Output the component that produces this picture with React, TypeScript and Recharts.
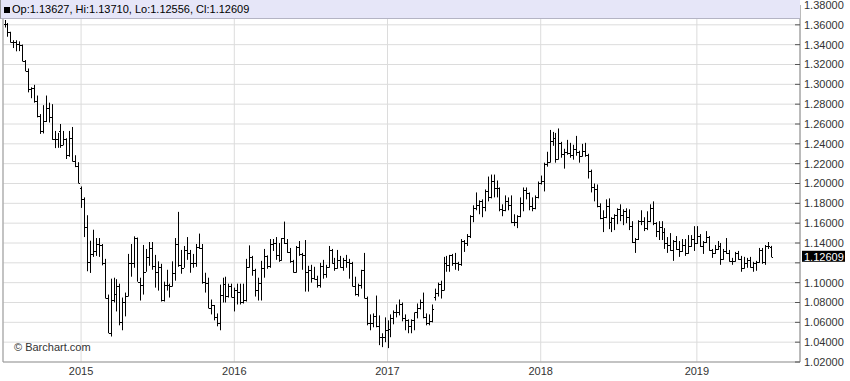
import { ComposedChart, Bar, XAxis, YAxis, CartesianGrid, ReferenceLine } from 'recharts'

// weekly EUR/USD bars: [open, high, low, close]
type Ohlc = [number, number, number, number]

const bars2014: Ohlc[] = [
  [1.3605, 1.3649, 1.3573, 1.3605], [1.3605, 1.3618, 1.3480, 1.3525], [1.3525, 1.3530, 1.3420, 1.3430],
  [1.3430, 1.3445, 1.3366, 1.3425], [1.3425, 1.3444, 1.3333, 1.3410], [1.3410, 1.3433, 1.3335, 1.3400],
  [1.3400, 1.3401, 1.3230, 1.3240], [1.3240, 1.3245, 1.3131, 1.3132], [1.3132, 1.3160, 1.2919, 1.2953],
  [1.2953, 1.2970, 1.2860, 1.2962], [1.2962, 1.2995, 1.2815, 1.2830], [1.2830, 1.2887, 1.2667, 1.2685],
  [1.2685, 1.2700, 1.2500, 1.2525], [1.2525, 1.2790, 1.2505, 1.2630], [1.2630, 1.2887, 1.2620, 1.2760],
  [1.2760, 1.2815, 1.2615, 1.2670], [1.2670, 1.2800, 1.2440, 1.2450], [1.2450, 1.2530, 1.2357, 1.2450],
  [1.2450, 1.2510, 1.2360, 1.2525], [1.2525, 1.2600, 1.2360, 1.2390], [1.2390, 1.2530, 1.2385, 1.2450],
  [1.2450, 1.2456, 1.2247, 1.2290], [1.2290, 1.2530, 1.2270, 1.2460], [1.2460, 1.2570, 1.2220, 1.2230],
  [1.2230, 1.2285, 1.2165, 1.2180], [1.2180, 1.2215, 1.2000, 1.2010],
]

const bars2015: Ohlc[] = [
  [1.1950, 1.1970, 1.1754, 1.1840], [1.1840, 1.1860, 1.1460, 1.1565], [1.1565, 1.1680, 1.1115, 1.1205],
  [1.1205, 1.1423, 1.1098, 1.1290], [1.1290, 1.1534, 1.1260, 1.1315], [1.1315, 1.1450, 1.1270, 1.1390],
  [1.1390, 1.1450, 1.1260, 1.1380], [1.1380, 1.1390, 1.1175, 1.1195], [1.1195, 1.1240, 1.0840, 1.0845],
  [1.0845, 1.0880, 1.0490, 1.0495], [1.0495, 1.1040, 1.0457, 1.0825], [1.0825, 1.1050, 1.0800, 1.0890],
  [1.0890, 1.1035, 1.0710, 1.0970], [1.0970, 1.0990, 1.0570, 1.0600], [1.0600, 1.0850, 1.0520, 1.0810],
  [1.0810, 1.0900, 1.0660, 1.0870], [1.0870, 1.1290, 1.0860, 1.1200], [1.1200, 1.1390, 1.1060, 1.1200],
  [1.1200, 1.1467, 1.1150, 1.1450], [1.1450, 1.1455, 1.1010, 1.1010], [1.1010, 1.1050, 1.0820, 1.0980],
  [1.0980, 1.1380, 1.0880, 1.1110], [1.1110, 1.1340, 1.1110, 1.1260], [1.1260, 1.1410, 1.1170, 1.1350],
  [1.1350, 1.1410, 1.1130, 1.1165], [1.1165, 1.1280, 1.0950, 1.1110], [1.1110, 1.1215, 1.0920, 1.1160],
  [1.1160, 1.1190, 1.0810, 1.0830], [1.0830, 1.1010, 1.0810, 1.0980], [1.0980, 1.1130, 1.0920, 1.0980],
  [1.0980, 1.0990, 1.0850, 1.0970], [1.0970, 1.1215, 1.0960, 1.1100], [1.1100, 1.1450, 1.1020, 1.1390],
  [1.1390, 1.1714, 1.1160, 1.1180], [1.1180, 1.1330, 1.1090, 1.1150], [1.1150, 1.1370, 1.1150, 1.1330],
  [1.1330, 1.1460, 1.1230, 1.1300], [1.1300, 1.1330, 1.1100, 1.1200], [1.1200, 1.1290, 1.1150, 1.1200],
  [1.1200, 1.1390, 1.1160, 1.1360], [1.1360, 1.1495, 1.1340, 1.1350], [1.1350, 1.1390, 1.0990, 1.1010],
  [1.1010, 1.1100, 1.0900, 1.1000], [1.1000, 1.1050, 1.0740, 1.0745], [1.0745, 1.0830, 1.0680, 1.0770],
  [1.0770, 1.0775, 1.0620, 1.0650], [1.0650, 1.0690, 1.0560, 1.0590], [1.0590, 1.0980, 1.0520, 1.0880],
  [1.0880, 1.1050, 1.0800, 1.0990], [1.0990, 1.1060, 1.0800, 1.0870], [1.0870, 1.0990, 1.0850, 1.0970],
  [1.0970, 1.0990, 1.0850, 1.0860],
]

const bars2016: Ohlc[] = [
  [1.0860, 1.0950, 1.0710, 1.0930], [1.0930, 1.0990, 1.0780, 1.0910], [1.0910, 1.0990, 1.0780, 1.0800],
  [1.0800, 1.0990, 1.0790, 1.0830], [1.0830, 1.1240, 1.0810, 1.1160], [1.1160, 1.1376, 1.1150, 1.1260],
  [1.1260, 1.1270, 1.1070, 1.1130], [1.1130, 1.1140, 1.0860, 1.0930], [1.0930, 1.1050, 1.0820, 1.1000],
  [1.1000, 1.1220, 1.0820, 1.1150], [1.1150, 1.1340, 1.1050, 1.1270], [1.1270, 1.1275, 1.1140, 1.1170],
  [1.1170, 1.1440, 1.1150, 1.1390], [1.1390, 1.1440, 1.1320, 1.1400], [1.1400, 1.1460, 1.1230, 1.1280],
  [1.1280, 1.1400, 1.1210, 1.1230], [1.1230, 1.1450, 1.1220, 1.1450], [1.1450, 1.1616, 1.1390, 1.1400],
  [1.1400, 1.1440, 1.1300, 1.1310], [1.1310, 1.1350, 1.1200, 1.1220], [1.1220, 1.1230, 1.1100, 1.1110],
  [1.1110, 1.1370, 1.1100, 1.1360], [1.1360, 1.1420, 1.1270, 1.1290], [1.1290, 1.1300, 1.1130, 1.1280],
  [1.1280, 1.1430, 1.0910, 1.1110], [1.1110, 1.1170, 1.0910, 1.1130], [1.1130, 1.1180, 1.1000, 1.1050],
  [1.1050, 1.1160, 1.1030, 1.1040], [1.1040, 1.1070, 1.0950, 1.0980], [1.0980, 1.1200, 1.0950, 1.1170],
  [1.1170, 1.1230, 1.1040, 1.1085], [1.1085, 1.1180, 1.1050, 1.1160], [1.1160, 1.1370, 1.1150, 1.1325],
  [1.1325, 1.1340, 1.1190, 1.1200], [1.1200, 1.1250, 1.1120, 1.1150], [1.1150, 1.1330, 1.1140, 1.1230],
  [1.1230, 1.1270, 1.1150, 1.1160], [1.1160, 1.1250, 1.1120, 1.1230], [1.1230, 1.1280, 1.1150, 1.1210],
  [1.1210, 1.1240, 1.1040, 1.1200], [1.1200, 1.1210, 1.0960, 1.0970], [1.0970, 1.1060, 1.0870, 1.0890],
  [1.0890, 1.0990, 1.0860, 1.0980], [1.0980, 1.1130, 1.0940, 1.1130], [1.1130, 1.1300, 1.0840, 1.0850],
  [1.0850, 1.0860, 1.0570, 1.0590], [1.0590, 1.0680, 1.0520, 1.0590], [1.0590, 1.0690, 1.0550, 1.0660],
  [1.0660, 1.0870, 1.0550, 1.0560], [1.0560, 1.0670, 1.0370, 1.0450], [1.0450, 1.0490, 1.0350, 1.0450],
  [1.0450, 1.0650, 1.0400, 1.0520],
]

const bars2017: Ohlc[] = [
  [1.0520, 1.0620, 1.0340, 1.0530], [1.0530, 1.0680, 1.0450, 1.0640], [1.0640, 1.0720, 1.0580, 1.0700],
  [1.0700, 1.0780, 1.0650, 1.0700], [1.0700, 1.0830, 1.0670, 1.0780], [1.0780, 1.0800, 1.0610, 1.0640],
  [1.0640, 1.0680, 1.0520, 1.0620], [1.0620, 1.0630, 1.0490, 1.0560], [1.0560, 1.0630, 1.0490, 1.0620],
  [1.0620, 1.0700, 1.0520, 1.0700], [1.0700, 1.0790, 1.0640, 1.0740], [1.0740, 1.0830, 1.0730, 1.0800],
  [1.0800, 1.0900, 1.0640, 1.0650], [1.0650, 1.0690, 1.0570, 1.0590], [1.0590, 1.0680, 1.0570, 1.0610],
  [1.0610, 1.0780, 1.0600, 1.0730], [1.0860, 1.0940, 1.0820, 1.0900], [1.0900, 1.1000, 1.0860, 1.0990],
  [1.0990, 1.1020, 1.0840, 1.0930], [1.0930, 1.1260, 1.0920, 1.1200], [1.1200, 1.1270, 1.1110, 1.1180],
  [1.1180, 1.1280, 1.1110, 1.1280], [1.1280, 1.1290, 1.1170, 1.1200], [1.1200, 1.1300, 1.1130, 1.1200],
  [1.1200, 1.1210, 1.1120, 1.1190], [1.1190, 1.1440, 1.1170, 1.1420], [1.1420, 1.1430, 1.1310, 1.1400],
  [1.1400, 1.1490, 1.1370, 1.1470], [1.1470, 1.1680, 1.1450, 1.1670], [1.1670, 1.1780, 1.1610, 1.1750],
  [1.1750, 1.1910, 1.1730, 1.1780], [1.1780, 1.1830, 1.1690, 1.1820], [1.1820, 1.1840, 1.1660, 1.1760],
  [1.1760, 1.1940, 1.1720, 1.1920], [1.1920, 1.2070, 1.1820, 1.1860], [1.1860, 1.2090, 1.1850, 1.2030],
  [1.2030, 1.2090, 1.1860, 1.1950], [1.1950, 1.2030, 1.1860, 1.1950], [1.1950, 1.1960, 1.1720, 1.1740],
  [1.1740, 1.1790, 1.1670, 1.1730], [1.1730, 1.1880, 1.1720, 1.1820], [1.1820, 1.1860, 1.1730, 1.1780],
  [1.1780, 1.1880, 1.1600, 1.1610], [1.1610, 1.1690, 1.1570, 1.1610], [1.1610, 1.1680, 1.1550, 1.1670],
  [1.1670, 1.1860, 1.1660, 1.1800], [1.1800, 1.1960, 1.1720, 1.1930], [1.1930, 1.1960, 1.1840, 1.1900],
  [1.1900, 1.1910, 1.1730, 1.1770], [1.1770, 1.1860, 1.1720, 1.1750], [1.1750, 1.1880, 1.1740, 1.1860],
  [1.1860, 1.2020, 1.1850, 1.2010],
]

const bars2018: Ohlc[] = [
  [1.2010, 1.2080, 1.1990, 1.2030], [1.2030, 1.2210, 1.1920, 1.2200], [1.2200, 1.2320, 1.2170, 1.2220],
  [1.2220, 1.2540, 1.2210, 1.2430], [1.2430, 1.2520, 1.2380, 1.2460], [1.2460, 1.2510, 1.2210, 1.2250],
  [1.2250, 1.2555, 1.2240, 1.2410], [1.2410, 1.2420, 1.2260, 1.2300], [1.2300, 1.2350, 1.2150, 1.2320],
  [1.2320, 1.2440, 1.2290, 1.2310], [1.2310, 1.2410, 1.2260, 1.2290], [1.2290, 1.2390, 1.2240, 1.2350],
  [1.2350, 1.2480, 1.2280, 1.2320], [1.2320, 1.2330, 1.2210, 1.2280], [1.2280, 1.2400, 1.2270, 1.2330],
  [1.2330, 1.2410, 1.2270, 1.2290], [1.2290, 1.2300, 1.2050, 1.2130], [1.2130, 1.2140, 1.1910, 1.1960],
  [1.1960, 1.2000, 1.1820, 1.1940], [1.1940, 1.1990, 1.1760, 1.1770], [1.1770, 1.1800, 1.1640, 1.1650],
  [1.1650, 1.1730, 1.1510, 1.1660], [1.1660, 1.1840, 1.1650, 1.1770], [1.1770, 1.1850, 1.1540, 1.1610],
  [1.1610, 1.1660, 1.1510, 1.1650], [1.1650, 1.1690, 1.1530, 1.1680], [1.1680, 1.1750, 1.1590, 1.1740],
  [1.1740, 1.1790, 1.1620, 1.1680], [1.1680, 1.1740, 1.1580, 1.1720], [1.1720, 1.1750, 1.1600, 1.1660],
  [1.1660, 1.1740, 1.1530, 1.1570], [1.1570, 1.1620, 1.1400, 1.1410], [1.1410, 1.1450, 1.1300, 1.1440],
  [1.1440, 1.1630, 1.1430, 1.1620], [1.1620, 1.1730, 1.1580, 1.1620], [1.1620, 1.1660, 1.1520, 1.1550],
  [1.1550, 1.1720, 1.1530, 1.1620], [1.1620, 1.1790, 1.1610, 1.1750], [1.1750, 1.1820, 1.1580, 1.1600],
  [1.1600, 1.1610, 1.1460, 1.1520], [1.1520, 1.1620, 1.1430, 1.1560], [1.1560, 1.1620, 1.1430, 1.1510],
  [1.1510, 1.1550, 1.1340, 1.1400], [1.1400, 1.1460, 1.1300, 1.1380], [1.1380, 1.1500, 1.1320, 1.1330],
  [1.1330, 1.1430, 1.1220, 1.1420], [1.1420, 1.1470, 1.1330, 1.1340], [1.1340, 1.1420, 1.1260, 1.1320],
  [1.1320, 1.1440, 1.1310, 1.1380], [1.1380, 1.1440, 1.1270, 1.1300], [1.1300, 1.1480, 1.1290, 1.1370],
  [1.1370, 1.1480, 1.1360, 1.1440], [1.1440, 1.1570, 1.1320, 1.1400],
]

const bars2019: Ohlc[] = [
  [1.1400, 1.1570, 1.1390, 1.1470], [1.1470, 1.1490, 1.1360, 1.1370], [1.1370, 1.1420, 1.1290, 1.1410],
  [1.1410, 1.1520, 1.1400, 1.1460], [1.1460, 1.1470, 1.1320, 1.1330], [1.1330, 1.1340, 1.1250, 1.1300],
  [1.1300, 1.1380, 1.1290, 1.1340], [1.1340, 1.1420, 1.1330, 1.1370], [1.1370, 1.1400, 1.1180, 1.1240],
  [1.1240, 1.1340, 1.1230, 1.1320], [1.1320, 1.1450, 1.1290, 1.1300], [1.1300, 1.1330, 1.1210, 1.1220],
  [1.1220, 1.1250, 1.1180, 1.1220], [1.1220, 1.1310, 1.1210, 1.1300], [1.1300, 1.1320, 1.1230, 1.1240],
  [1.1240, 1.1270, 1.1110, 1.1150], [1.1150, 1.1260, 1.1140, 1.1200], [1.1200, 1.1250, 1.1150, 1.1230],
  [1.1230, 1.1260, 1.1150, 1.1160], [1.1160, 1.1210, 1.1110, 1.1200], [1.1200, 1.1220, 1.1120, 1.1210],
  [1.1210, 1.1350, 1.1200, 1.1330], [1.1330, 1.1350, 1.1190, 1.1210], [1.1210, 1.1380, 1.1180, 1.1370],
  [1.1370, 1.1410, 1.1340, 1.1370], [1.13627, 1.1371, 1.12556, 1.12609],
]

const yearBars = [bars2014, bars2015, bars2016, bars2017, bars2018, bars2019]
// Monday of the first weekly bar in each block
const blockStarts = ['2014-07-07', '2015-01-05', '2016-01-04', '2017-01-02', '2018-01-01', '2019-01-07']
const yearTicks = ['2015', '2016', '2017', '2018', '2019']
const priceTicks = [1.02, 1.04, 1.06, 1.08, 1.1, 1.12, 1.14, 1.16, 1.18, 1.2, 1.22, 1.24, 1.26, 1.28, 1.3, 1.32, 1.34, 1.36, 1.38]
const lastClose = 1.12609
const legendText = 'Op:1.13627, Hi:1.13710, Lo:1.12556, Cl:1.12609'

const weekDate = (start: string, i: number) => {
  const d = new Date(start + 'T00:00:00Z')
  d.setUTCDate(d.getUTCDate() + 7 * i)
  return d.toISOString().slice(0, 10)
}

const data = yearBars.flatMap((bars, k) =>
  bars.map(([open, high, low, close], i) => ({
    date: weekDate(blockStarts[k], i),
    open,
    high,
    low,
    close,
    range: [low, high],
  })),
)

const xTicks = yearTicks.map((y) => data.find((d) => d.date.startsWith(y))!.date)

const FONT = '"Liberation Sans", Arial, sans-serif'

function OhlcBar(props: any) {
  const { x, y, width, height, payload } = props
  if (!payload) return null
  const top = Math.min(y, y + height)
  const h = Math.abs(height)
  const cx = Math.round(x + width / 2) + 0.5
  const span = payload.high - payload.low || 1
  const py = (v: number) => Math.round(top + ((payload.high - v) / span) * h) + 0.5
  const yo = py(payload.open)
  const yc = py(payload.close)
  return (
    <g stroke="#000" strokeWidth={1}>
      <line x1={cx} x2={cx} y1={top} y2={top + Math.max(h, 1)} />
      <line x1={cx - 1.5} x2={cx - 0.5} y1={yo} y2={yo} />
      <line x1={cx + 0.5} x2={cx + 1.5} y1={yc} y2={yc} />
    </g>
  )
}

function PriceTick(props: any) {
  const { x, y, payload } = props
  // the last-price box covers the label next to it
  const hidden = Math.abs(payload.value - lastClose) < 0.008
  return (
    <g>
      <line x1={x - 9} x2={x - 4} y1={y} y2={y} stroke="#555" />
      {!hidden && (
        <text x={x} y={y} dy="0.355em" fontSize={11} fill="#333" fontFamily={FONT}>
          {Number(payload.value).toFixed(5)}
        </text>
      )}
    </g>
  )
}

function LastPrice(props: any) {
  const vb = props.viewBox
  if (!vb) return null
  const left = vb.x + vb.width + 2
  return (
    <g>
      <rect x={left} y={vb.y - 6} width={43} height={11} fill="#000" />
      <text x={left + 2} y={vb.y} dy="0.355em" fontSize={11} fill="#fff" fontFamily={FONT}>
        {lastClose.toFixed(5)}
      </text>
    </g>
  )
}

export default function App() {
  return (
    <div style={{ position: 'relative', width: 850, height: 381, background: '#fff' }}>
      <style>{'body{margin:0}'}</style>
      <ComposedChart
        width={850}
        height={381}
        data={data}
        margin={{ top: 5, right: 0, bottom: 0, left: 0 }}
        barCategoryGap={0}
      >
        <CartesianGrid stroke="#dcdcdc" />
        <XAxis
          dataKey="date"
          ticks={xTicks}
          interval={0}
          tickFormatter={(d: string) => d.slice(0, 4)}
          height={19}
          tickSize={0}
          tickMargin={5}
          padding={{ left: 0, right: 28 }}
          axisLine={{ stroke: '#999' }}
          tickLine={false}
          tick={{ fontSize: 11, fill: '#333', fontFamily: FONT }}
        />
        <YAxis yAxisId="left" orientation="left" width={3} tick={false} tickLine={false} axisLine={{ stroke: '#999' }} />
        <YAxis
          orientation="right"
          width={50}
          domain={[1.02, 1.38]}
          ticks={priceTicks}
          allowDataOverflow
          interval={0}
          tickSize={0}
          tickMargin={4}
          axisLine={{ stroke: '#888' }}
          tickLine={false}
          tick={<PriceTick />}
        />
        <Bar dataKey="range" shape={<OhlcBar />} isAnimationActive={false} />
        <ReferenceLine y={lastClose} stroke="none" label={<LastPrice />} />
      </ComposedChart>
      <div
        style={{
          position: 'absolute',
          left: 0,
          top: 0,
          width: 800,
          height: 19,
          boxSizing: 'border-box',
          background: '#e6e6f8',
          borderBottom: '1px solid #b4b4c4',
          borderLeft: '1px solid #999',
          fontFamily: FONT,
          fontSize: 11,
          color: '#000',
        }}
      >
        <div style={{ position: 'absolute', left: 3, top: 7, width: 6, height: 6, background: '#000' }} />
        <div style={{ position: 'absolute', left: 11, top: 3, lineHeight: '13px', whiteSpace: 'nowrap' }}>{legendText}</div>
      </div>
      <div
        style={{
          position: 'absolute',
          left: 14,
          top: 340,
          fontFamily: FONT,
          fontSize: 11,
          color: '#333',
          lineHeight: '14px',
        }}
      >
        © Barchart.com
      </div>
    </div>
  )
}
